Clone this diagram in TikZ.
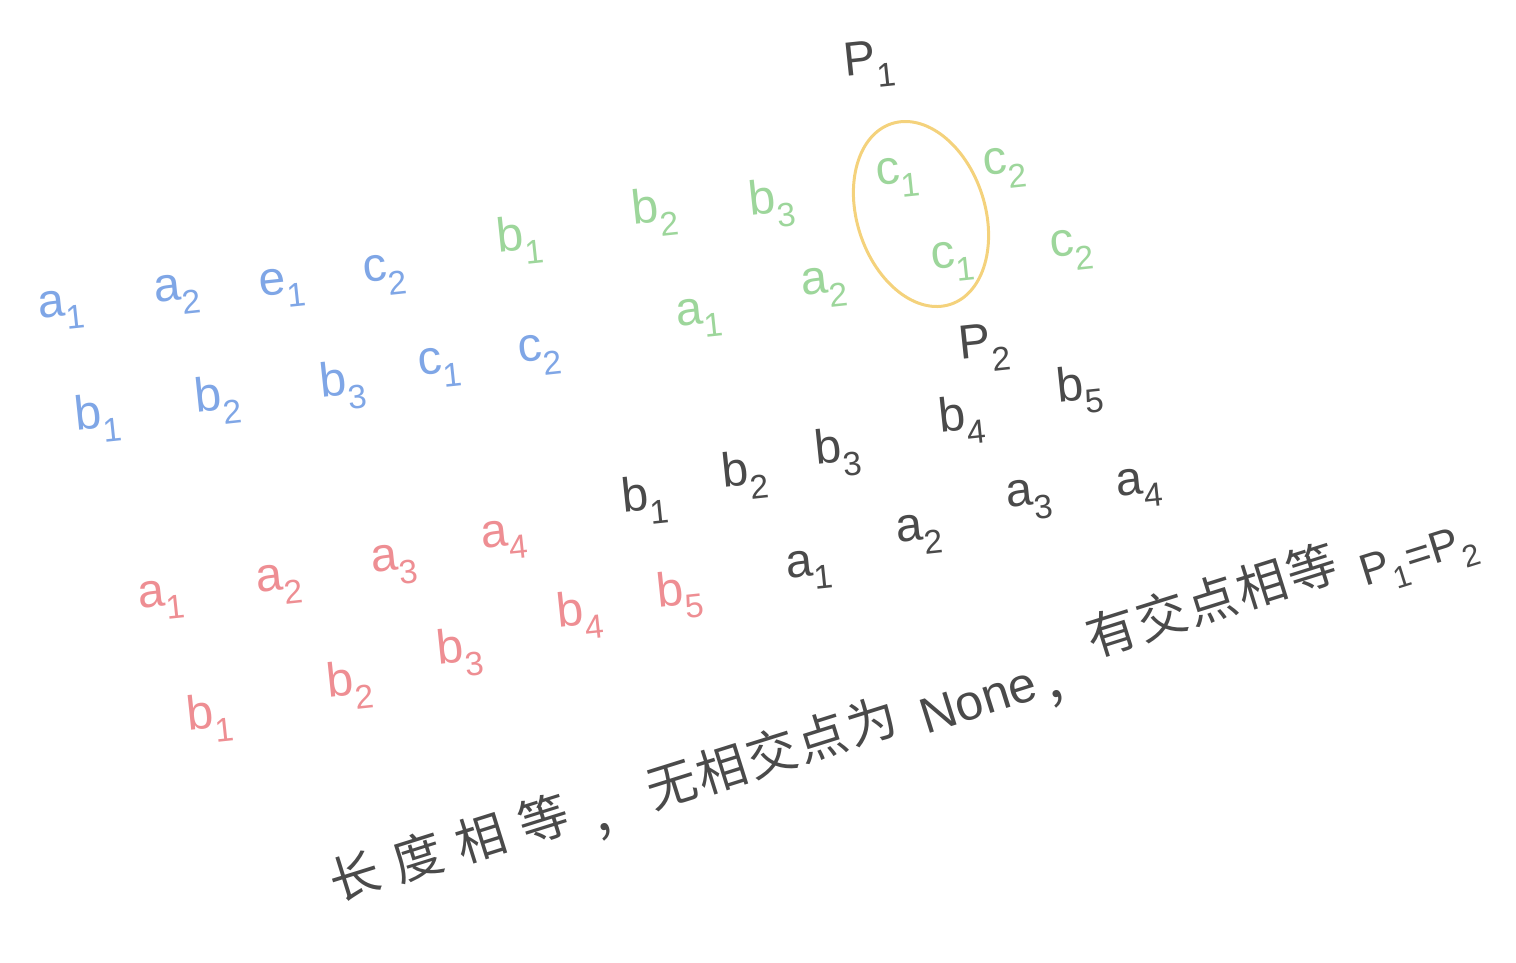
\documentclass[tikz,border=0pt]{standalone}
\usepackage{fontspec}
\setmainfont{Liberation Sans}
\newfontfamily\cjk{Noto Sans CJK SC}
\definecolor{hblue}{HTML}{7FA6E6}
\definecolor{hgreen}{HTML}{9DD69B}
\definecolor{hred}{HTML}{EE8E93}
\definecolor{hgray}{HTML}{4A4A4A}
\definecolor{hyellow}{HTML}{F4D27C}
\usetikzlibrary{shapes.geometric}
\tikzset{
  lbl/.style={font=\fontsize{48}{52}\selectfont, inner sep=0pt, rotate=6},
  bl/.style={lbl, text=hblue},
  gr/.style={lbl, text=hgreen},
  rd/.style={lbl, text=hred},
  bk/.style={lbl, text=hgray},
  loop/.style={draw=hyellow, line width=3pt},
  sent/.style={text=hgray, inner sep=0pt, rotate=17.4, font=\fontsize{50}{54}\selectfont},
  cj/.style={sent, font=\fontsize{50}{54}\selectfont\cjk},
}
\newcommand{\vs}[2]{#1\textsubscript{#2}}
\begin{document}
\begin{tikzpicture}[x=1pt,y=-1pt]
\useasboundingbox (0,0) rectangle (1516,962);
% blue
\node[bl] (ba1) at (62,310) {\vs{a}{1}};
\node[bl] (ba2) at (178,295) {\vs{a}{2}};
\node[bl] (be1) at (283,288) {\vs{e}{1}};
\node[bl] (bc2) at (385,275) {\vs{c}{2}};
\node[bl] (bb1) at (98,418) {\vs{b}{1}};
\node[bl] (bb2) at (218,400) {\vs{b}{2}};
\node[bl] (bb3) at (343,385) {\vs{b}{3}};
\node[bl] (bc1) at (440,368) {\vs{c}{1}};
\node[bl] (bc2b) at (540,355) {\vs{c}{2}};
% green
\node[gr] (gb1) at (520,240) {\vs{b}{1}};
\node[gr] (gb2) at (655,212) {\vs{b}{2}};
\node[gr] (gb3) at (772,203) {\vs{b}{3}};
\node[gr] (ga1) at (700,318) {\vs{a}{1}};
\node[gr] (ga2) at (825,288) {\vs{a}{2}};
\node[gr] (gc1) at (898,178) {\vs{c}{1}};
\node[gr] (gc1b) at (953,262) {\vs{c}{1}};
\node[gr] (gc2) at (1005,168) {\vs{c}{2}};
\node[gr] (gc2b) at (1072,250) {\vs{c}{2}};
% yellow loop
\node[loop, ellipse, minimum width=128pt, minimum height=190pt, rotate=18] (ring) at (921,214) {};
% black
\node[bk] (p1) at (870,65) {\vs{P}{1}};
\node[bk] (p2) at (985,348) {\vs{P}{2}};
\node[bk] (kb1) at (645,500) {\vs{b}{1}};
\node[bk] (kb2) at (745,475) {\vs{b}{2}};
\node[bk] (kb3) at (838,452) {\vs{b}{3}};
\node[bk] (kb4) at (962,420) {\vs{b}{4}};
\node[bk] (kb5) at (1080,390) {\vs{b}{5}};
\node[bk] (ka1) at (810,570) {\vs{a}{1}};
\node[bk] (ka2) at (920,535) {\vs{a}{2}};
\node[bk] (ka3) at (1030,500) {\vs{a}{3}};
\node[bk] (ka4) at (1140,488) {\vs{a}{4}};
% red
\node[rd] (ra1) at (162,600) {\vs{a}{1}};
\node[rd] (ra2) at (280,585) {\vs{a}{2}};
\node[rd] (ra3) at (395,565) {\vs{a}{3}};
\node[rd] (ra4) at (505,540) {\vs{a}{4}};
\node[rd] (rb4) at (580,615) {\vs{b}{4}};
\node[rd] (rb5) at (680,595) {\vs{b}{5}};
\node[rd] (rb1) at (210,718) {\vs{b}{1}};
\node[rd] (rb2) at (350,685) {\vs{b}{2}};
\node[rd] (rb3) at (460,652) {\vs{b}{3}};
% sentence, written character by character along the slanted line
\node[cj] (t1) at (355,876) {长};
\node[cj] (t2) at (418,857) {度};
\node[cj] (t3) at (481,838) {相};
\node[cj] (t4) at (544,819) {等};
\node[cj] (t5) at (618,828) {，};
\node[cj] (t6) at (672,785) {无};
\node[cj] (t7) at (722,769) {相};
\node[cj] (t8) at (772,753) {交};
\node[cj] (t9) at (822,737) {点};
\node[cj] (t10) at (872,721) {为};
\node[sent] (t11) at (978,700) {None};
\node[cj] (t12) at (1070,695) {，};
\node[cj] (t13) at (1112,632) {有};
\node[cj] (t14) at (1162,616) {交};
\node[cj] (t15) at (1212,600) {点};
\node[cj] (t16) at (1262,584) {相};
\node[cj] (t17) at (1312,568) {等};
\node[sent, font=\fontsize{44}{48}\selectfont] (t18) at (1420,560) {\vs{P}{1}=\vs{P}{2}};
\end{tikzpicture}
\end{document}
